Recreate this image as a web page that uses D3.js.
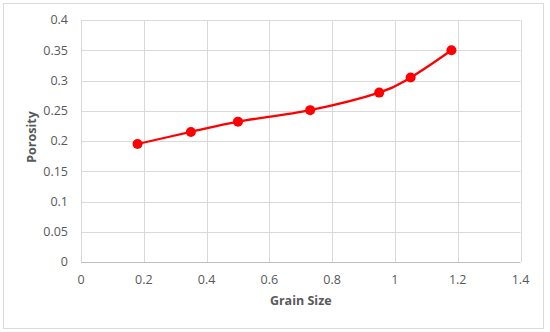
<!DOCTYPE html>
<html><head><meta charset="utf-8">
<script src="https://cdn.jsdelivr.net/npm/d3@7"></script>
<style>body{margin:0;background:#fff}text{font-family:"Open Sans",sans-serif;fill:#595959}</style>
</head><body>
<svg id="c" width="550" height="332"></svg>
<script>
const grainSize = [0.18, 0.35, 0.5, 0.73, 0.95, 1.05, 1.18];
const porosity = [0.195, 0.215, 0.232, 0.251, 0.28, 0.305, 0.35];
const xTicks = [0, 0.2, 0.4, 0.6, 0.8, 1, 1.2, 1.4];
const yTicks = [0, 0.05, 0.1, 0.15, 0.2, 0.25, 0.3, 0.35, 0.4];

const svg = d3.select("#c");
svg.append("rect").attr("x",3.5).attr("y",3.5).attr("width",540).attr("height",325)
  .attr("fill","#fff").attr("stroke","#d9d9d9");
const L=81, R=520.5, T=20, B=262;
const x = d3.scaleLinear().domain([0,1.4]).range([L,R]);
const y = d3.scaleLinear().domain([0,0.4]).range([B,T]);

const g = svg.append("g");
g.selectAll(".vg").data(xTicks).join("line")
  .attr("x1",d=>Math.round(x(d))+0.5).attr("x2",d=>Math.round(x(d))+0.5)
  .attr("y1",T).attr("y2",B).attr("stroke","#d9d9d9").attr("stroke-width",1);
g.selectAll(".hg").data(yTicks).join("line")
  .attr("y1",d=>Math.round(y(d))+0.5).attr("y2",d=>Math.round(y(d))+0.5)
  .attr("x1",L).attr("x2",R).attr("stroke",d=>d===0?"#bfbfbf":"#d9d9d9").attr("stroke-width",1);

svg.selectAll(".yl").data(yTicks).join("text")
  .attr("x",68).attr("y",d=>y(d)).attr("dy","0.35em").attr("text-anchor","end")
  .attr("font-size","12.5px").text(d=>d3.format("")(d));
svg.selectAll(".xl").data(xTicks).join("text")
  .attr("x",d=>x(d)).attr("y",280).attr("dy","0.35em").attr("text-anchor","middle")
  .attr("font-size","12.5px").text(d=>d3.format("")(d));

svg.append("text").attr("x",(L+R)/2).attr("y",305).attr("text-anchor","middle")
  .attr("font-size","12.5px").attr("font-weight","bold").text("Grain Size");
svg.append("text").attr("transform",`translate(36,${(T+B)/2 - 4}) rotate(-90)`)
  .attr("text-anchor","middle").attr("font-size","12.5px").attr("font-weight","bold").text("Porosity");

const pts = grainSize.map((g,i)=>[g,porosity[i]]);
svg.append("path").datum(pts)
  .attr("d", d3.line().x(d=>x(d[0])).y(d=>y(d[1])).curve(d3.curveCatmullRom.alpha(0)))
  .attr("fill","none").attr("stroke","#ff0000").attr("stroke-width",2.25);
svg.selectAll(".pt").data(pts).join("circle")
  .attr("cx",d=>x(d[0])).attr("cy",d=>y(d[1])).attr("r",5).attr("fill","#ff0000");
</script>
</body></html>
